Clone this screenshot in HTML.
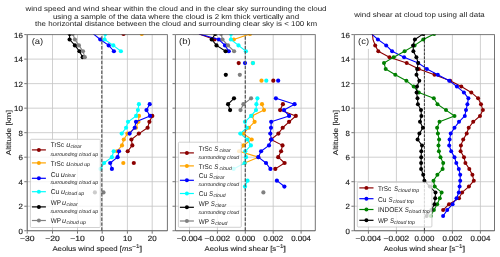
<!DOCTYPE html>
<html><head><meta charset="utf-8"><style>
html,body{margin:0;padding:0;background:#fff;overflow:hidden;}
svg{display:block;will-change:transform;}
text{font-family:"Liberation Sans",sans-serif;text-rendering:geometricPrecision;}
</style></head><body>
<svg width="500" height="257" viewBox="0 0 500 257">
<rect x="0" y="0" width="500" height="257" fill="#fff"/>
<defs>
<clipPath id="clipa"><rect x="27.2" y="34.6" width="140.20" height="196.15"/></clipPath>
<clipPath id="clipb"><rect x="175.4" y="34.6" width="139.90" height="196.15"/></clipPath>
<clipPath id="clipc"><rect x="354.3" y="34.6" width="140.20" height="196.15"/></clipPath>
</defs>
<path d="M27.20 230.75H167.40 M27.20 206.23H167.40 M27.20 181.71H167.40 M27.20 157.19H167.40 M27.20 132.68H167.40 M27.20 108.16H167.40 M27.20 83.64H167.40 M27.20 59.12H167.40 M27.20 34.60H167.40 M27.20 34.60V230.75 M52.50 34.60V230.75 M77.50 34.60V230.75 M102.20 34.60V230.75 M127.40 34.60V230.75 M152.20 34.60V230.75" stroke="#c4c4c4" stroke-width="0.8" fill="none"/>
<path d="M175.40 230.75H315.30 M175.40 206.23H315.30 M175.40 181.71H315.30 M175.40 157.19H315.30 M175.40 132.68H315.30 M175.40 108.16H315.30 M175.40 83.64H315.30 M175.40 59.12H315.30 M175.40 34.60H315.30 M189.50 34.60V230.75 M217.40 34.60V230.75 M245.30 34.60V230.75 M273.20 34.60V230.75 M301.10 34.60V230.75" stroke="#c4c4c4" stroke-width="0.8" fill="none"/>
<path d="M354.30 230.75H494.50 M354.30 206.23H494.50 M354.30 181.71H494.50 M354.30 157.19H494.50 M354.30 132.68H494.50 M354.30 108.16H494.50 M354.30 83.64H494.50 M354.30 59.12H494.50 M354.30 34.60H494.50 M368.40 34.60V230.75 M396.40 34.60V230.75 M424.40 34.60V230.75 M452.40 34.60V230.75 M480.40 34.60V230.75" stroke="#c4c4c4" stroke-width="0.8" fill="none"/>
<g clip-path="url(#clipa)">
<polyline points="152.3,115.97 149.4,121.85 147.6,127.73 138.9,133.61 131.4,139.49 132.3,145.38 127.7,151.26" fill="none" stroke="#8b0000" stroke-width="1.1" stroke-linejoin="round"/>
<circle cx="123.5" cy="33.90" r="2.1" fill="#8b0000"/>
<circle cx="152.3" cy="115.97" r="2.1" fill="#8b0000"/>
<circle cx="149.4" cy="121.85" r="2.1" fill="#8b0000"/>
<circle cx="147.6" cy="127.73" r="2.1" fill="#8b0000"/>
<circle cx="138.9" cy="133.61" r="2.1" fill="#8b0000"/>
<circle cx="131.4" cy="139.49" r="2.1" fill="#8b0000"/>
<circle cx="132.3" cy="145.38" r="2.1" fill="#8b0000"/>
<circle cx="127.7" cy="151.26" r="2.1" fill="#8b0000"/>
<circle cx="133.8" cy="163.02" r="2.1" fill="#8b0000"/>
<polyline points="139.0,115.97 138.4,121.85 136.0,127.73 127.4,133.61 123.8,139.49 122.0,145.38 117.0,151.26" fill="none" stroke="#ffa500" stroke-width="1.1" stroke-linejoin="round"/>
<circle cx="141.8" cy="33.90" r="2.1" fill="#ffa500"/>
<circle cx="139.0" cy="115.97" r="2.1" fill="#ffa500"/>
<circle cx="138.4" cy="121.85" r="2.1" fill="#ffa500"/>
<circle cx="136.0" cy="127.73" r="2.1" fill="#ffa500"/>
<circle cx="127.4" cy="133.61" r="2.1" fill="#ffa500"/>
<circle cx="123.8" cy="139.49" r="2.1" fill="#ffa500"/>
<circle cx="122.0" cy="145.38" r="2.1" fill="#ffa500"/>
<circle cx="117.0" cy="151.26" r="2.1" fill="#ffa500"/>
<circle cx="123.3" cy="163.02" r="2.1" fill="#ffa500"/>
<polyline points="93.3,33.90 100.3,39.50 108.7,45.38 113.9,51.26" fill="none" stroke="#0000ff" stroke-width="1.1" stroke-linejoin="round"/>
<polyline points="149.7,104.20 146.5,110.08 150.0,115.97 136.0,121.85 134.7,127.73 129.6,133.61" fill="none" stroke="#0000ff" stroke-width="1.1" stroke-linejoin="round"/>
<polyline points="119.0,151.26 117.6,157.14 110.2,163.02 111.9,168.90" fill="none" stroke="#0000ff" stroke-width="1.1" stroke-linejoin="round"/>
<circle cx="100.3" cy="39.50" r="2.1" fill="#0000ff"/>
<circle cx="108.7" cy="45.38" r="2.1" fill="#0000ff"/>
<circle cx="113.9" cy="51.26" r="2.1" fill="#0000ff"/>
<circle cx="149.7" cy="104.20" r="2.1" fill="#0000ff"/>
<circle cx="146.5" cy="110.08" r="2.1" fill="#0000ff"/>
<circle cx="150.0" cy="115.97" r="2.1" fill="#0000ff"/>
<circle cx="136.0" cy="121.85" r="2.1" fill="#0000ff"/>
<circle cx="134.7" cy="127.73" r="2.1" fill="#0000ff"/>
<circle cx="129.6" cy="133.61" r="2.1" fill="#0000ff"/>
<circle cx="119.0" cy="151.26" r="2.1" fill="#0000ff"/>
<circle cx="117.6" cy="157.14" r="2.1" fill="#0000ff"/>
<circle cx="110.2" cy="163.02" r="2.1" fill="#0000ff"/>
<circle cx="111.9" cy="168.90" r="2.1" fill="#0000ff"/>
<polyline points="105.3,33.90 104.6,39.50 113.3,45.38 120.9,51.26" fill="none" stroke="#00ffff" stroke-width="1.1" stroke-linejoin="round"/>
<polyline points="138.9,104.20 137.9,110.08 136.1,115.97 128.0,121.85 126.1,127.73 121.7,133.61" fill="none" stroke="#00ffff" stroke-width="1.1" stroke-linejoin="round"/>
<polyline points="113.7,151.26 111.9,157.14 104.1,163.02 100.5,168.90" fill="none" stroke="#00ffff" stroke-width="1.1" stroke-linejoin="round"/>
<circle cx="105.3" cy="33.90" r="2.1" fill="#00ffff"/>
<circle cx="104.6" cy="39.50" r="2.1" fill="#00ffff"/>
<circle cx="113.3" cy="45.38" r="2.1" fill="#00ffff"/>
<circle cx="120.9" cy="51.26" r="2.1" fill="#00ffff"/>
<circle cx="138.9" cy="104.20" r="2.1" fill="#00ffff"/>
<circle cx="137.9" cy="110.08" r="2.1" fill="#00ffff"/>
<circle cx="136.1" cy="115.97" r="2.1" fill="#00ffff"/>
<circle cx="128.0" cy="121.85" r="2.1" fill="#00ffff"/>
<circle cx="126.1" cy="127.73" r="2.1" fill="#00ffff"/>
<circle cx="121.7" cy="133.61" r="2.1" fill="#00ffff"/>
<circle cx="113.7" cy="151.26" r="2.1" fill="#00ffff"/>
<circle cx="111.9" cy="157.14" r="2.1" fill="#00ffff"/>
<circle cx="104.1" cy="163.02" r="2.1" fill="#00ffff"/>
<circle cx="100.5" cy="168.90" r="2.1" fill="#00ffff"/>
<polyline points="69.6,33.90 69.6,39.50 74.9,45.38 79.4,51.26 82.7,57.15" fill="none" stroke="#000000" stroke-width="1.1" stroke-linejoin="round"/>
<circle cx="69.6" cy="33.90" r="2.1" fill="#000000"/>
<circle cx="69.6" cy="39.50" r="2.1" fill="#000000"/>
<circle cx="74.9" cy="45.38" r="2.1" fill="#000000"/>
<circle cx="79.4" cy="51.26" r="2.1" fill="#000000"/>
<circle cx="82.7" cy="57.15" r="2.1" fill="#000000"/>
<circle cx="94.9" cy="192.43" r="2.1" fill="#000000"/>
<polyline points="72.8,33.90 74.9,39.50 78.9,45.38 83.0,51.26 84.8,57.15" fill="none" stroke="#808080" stroke-width="1.1" stroke-linejoin="round"/>
<circle cx="72.8" cy="33.90" r="2.1" fill="#808080"/>
<circle cx="74.9" cy="39.50" r="2.1" fill="#808080"/>
<circle cx="78.9" cy="45.38" r="2.1" fill="#808080"/>
<circle cx="83.0" cy="51.26" r="2.1" fill="#808080"/>
<circle cx="84.8" cy="57.15" r="2.1" fill="#808080"/>
<circle cx="103.5" cy="192.43" r="2.1" fill="#808080"/>
<line x1="101.8" y1="230.75" x2="101.8" y2="34.6" stroke="#555" stroke-width="1.2" stroke-dasharray="3.4 1.5"/>
</g>
<g clip-path="url(#clipb)">
<polyline points="199.0,33.90 214.5,39.50" fill="none" stroke="#8b0000" stroke-width="1.1" stroke-linejoin="round"/>
<polyline points="282.9,104.20 280.1,110.08 295.8,115.97 289.1,121.85 282.7,127.73 278.4,133.61 271.0,139.49 282.5,145.38 281.1,151.26 278.2,157.14 284.6,163.02 275.3,168.90" fill="none" stroke="#8b0000" stroke-width="1.1" stroke-linejoin="round"/>
<circle cx="214.5" cy="39.50" r="2.1" fill="#8b0000"/>
<circle cx="238.7" cy="63.03" r="2.1" fill="#8b0000"/>
<circle cx="273.3" cy="80.67" r="2.1" fill="#8b0000"/>
<circle cx="282.9" cy="104.20" r="2.1" fill="#8b0000"/>
<circle cx="280.1" cy="110.08" r="2.1" fill="#8b0000"/>
<circle cx="295.8" cy="115.97" r="2.1" fill="#8b0000"/>
<circle cx="289.1" cy="121.85" r="2.1" fill="#8b0000"/>
<circle cx="282.7" cy="127.73" r="2.1" fill="#8b0000"/>
<circle cx="278.4" cy="133.61" r="2.1" fill="#8b0000"/>
<circle cx="271.0" cy="139.49" r="2.1" fill="#8b0000"/>
<circle cx="282.5" cy="145.38" r="2.1" fill="#8b0000"/>
<circle cx="281.1" cy="151.26" r="2.1" fill="#8b0000"/>
<circle cx="278.2" cy="157.14" r="2.1" fill="#8b0000"/>
<circle cx="284.6" cy="163.02" r="2.1" fill="#8b0000"/>
<circle cx="275.3" cy="168.90" r="2.1" fill="#8b0000"/>
<polyline points="250.0,33.90 233.8,39.50" fill="none" stroke="#ffa500" stroke-width="1.1" stroke-linejoin="round"/>
<polyline points="262.0,104.20 264.0,110.08 252.0,115.97 254.6,121.85 248.9,127.73 243.4,133.61 251.7,139.49 243.6,145.38 239.1,151.26 258.4,157.14 244.7,163.02" fill="none" stroke="#ffa500" stroke-width="1.1" stroke-linejoin="round"/>
<circle cx="250.0" cy="33.90" r="2.1" fill="#ffa500"/>
<circle cx="233.8" cy="39.50" r="2.1" fill="#ffa500"/>
<circle cx="252.8" cy="63.03" r="2.1" fill="#ffa500"/>
<circle cx="261.5" cy="80.67" r="2.1" fill="#ffa500"/>
<circle cx="262.0" cy="104.20" r="2.1" fill="#ffa500"/>
<circle cx="264.0" cy="110.08" r="2.1" fill="#ffa500"/>
<circle cx="252.0" cy="115.97" r="2.1" fill="#ffa500"/>
<circle cx="254.6" cy="121.85" r="2.1" fill="#ffa500"/>
<circle cx="248.9" cy="127.73" r="2.1" fill="#ffa500"/>
<circle cx="243.4" cy="133.61" r="2.1" fill="#ffa500"/>
<circle cx="251.7" cy="139.49" r="2.1" fill="#ffa500"/>
<circle cx="243.6" cy="145.38" r="2.1" fill="#ffa500"/>
<circle cx="239.1" cy="151.26" r="2.1" fill="#ffa500"/>
<circle cx="258.4" cy="157.14" r="2.1" fill="#ffa500"/>
<circle cx="244.7" cy="163.02" r="2.1" fill="#ffa500"/>
<polyline points="199.0,33.90 218.9,39.50 225.0,45.38 228.8,51.26" fill="none" stroke="#0000ff" stroke-width="1.1" stroke-linejoin="round"/>
<polyline points="275.9,98.32 294.6,104.20 284.0,110.08 289.1,115.97 271.2,121.85 271.0,127.73 270.3,133.61 271.5,139.49 269.0,145.38 261.1,151.26 258.3,157.14 266.0,163.02 270.4,168.90" fill="none" stroke="#0000ff" stroke-width="1.1" stroke-linejoin="round"/>
<polyline points="276.9,180.67 284.4,186.55" fill="none" stroke="#0000ff" stroke-width="1.1" stroke-linejoin="round"/>
<circle cx="218.9" cy="39.50" r="2.1" fill="#0000ff"/>
<circle cx="225.0" cy="45.38" r="2.1" fill="#0000ff"/>
<circle cx="228.8" cy="51.26" r="2.1" fill="#0000ff"/>
<circle cx="245.0" cy="63.03" r="2.1" fill="#0000ff"/>
<circle cx="278.2" cy="80.67" r="2.1" fill="#0000ff"/>
<circle cx="275.9" cy="98.32" r="2.1" fill="#0000ff"/>
<circle cx="294.6" cy="104.20" r="2.1" fill="#0000ff"/>
<circle cx="284.0" cy="110.08" r="2.1" fill="#0000ff"/>
<circle cx="289.1" cy="115.97" r="2.1" fill="#0000ff"/>
<circle cx="271.2" cy="121.85" r="2.1" fill="#0000ff"/>
<circle cx="271.0" cy="127.73" r="2.1" fill="#0000ff"/>
<circle cx="270.3" cy="133.61" r="2.1" fill="#0000ff"/>
<circle cx="271.5" cy="139.49" r="2.1" fill="#0000ff"/>
<circle cx="269.0" cy="145.38" r="2.1" fill="#0000ff"/>
<circle cx="261.1" cy="151.26" r="2.1" fill="#0000ff"/>
<circle cx="258.3" cy="157.14" r="2.1" fill="#0000ff"/>
<circle cx="266.0" cy="163.02" r="2.1" fill="#0000ff"/>
<circle cx="270.4" cy="168.90" r="2.1" fill="#0000ff"/>
<circle cx="276.9" cy="180.67" r="2.1" fill="#0000ff"/>
<circle cx="284.4" cy="186.55" r="2.1" fill="#0000ff"/>
<polyline points="231.0,33.90 230.9,39.50 238.5,45.38 245.9,51.26" fill="none" stroke="#00ffff" stroke-width="1.1" stroke-linejoin="round"/>
<polyline points="257.4,98.32 256.4,104.20 256.0,110.08 251.1,115.97 245.0,121.85 246.8,127.73 240.3,133.61 247.3,139.49 250.9,145.38 245.3,151.26 246.0,157.14 244.7,163.02 233.6,168.90" fill="none" stroke="#00ffff" stroke-width="1.1" stroke-linejoin="round"/>
<polyline points="247.5,180.67 245.0,186.55" fill="none" stroke="#00ffff" stroke-width="1.1" stroke-linejoin="round"/>
<circle cx="231.0" cy="33.90" r="2.1" fill="#00ffff"/>
<circle cx="230.9" cy="39.50" r="2.1" fill="#00ffff"/>
<circle cx="238.5" cy="45.38" r="2.1" fill="#00ffff"/>
<circle cx="245.9" cy="51.26" r="2.1" fill="#00ffff"/>
<circle cx="253.0" cy="63.03" r="2.1" fill="#00ffff"/>
<circle cx="266.3" cy="80.67" r="2.1" fill="#00ffff"/>
<circle cx="257.4" cy="98.32" r="2.1" fill="#00ffff"/>
<circle cx="256.4" cy="104.20" r="2.1" fill="#00ffff"/>
<circle cx="256.0" cy="110.08" r="2.1" fill="#00ffff"/>
<circle cx="251.1" cy="115.97" r="2.1" fill="#00ffff"/>
<circle cx="245.0" cy="121.85" r="2.1" fill="#00ffff"/>
<circle cx="246.8" cy="127.73" r="2.1" fill="#00ffff"/>
<circle cx="240.3" cy="133.61" r="2.1" fill="#00ffff"/>
<circle cx="247.3" cy="139.49" r="2.1" fill="#00ffff"/>
<circle cx="250.9" cy="145.38" r="2.1" fill="#00ffff"/>
<circle cx="245.3" cy="151.26" r="2.1" fill="#00ffff"/>
<circle cx="246.0" cy="157.14" r="2.1" fill="#00ffff"/>
<circle cx="244.7" cy="163.02" r="2.1" fill="#00ffff"/>
<circle cx="233.6" cy="168.90" r="2.1" fill="#00ffff"/>
<circle cx="247.5" cy="180.67" r="2.1" fill="#00ffff"/>
<circle cx="245.0" cy="186.55" r="2.1" fill="#00ffff"/>
<polyline points="215.3,33.90 211.7,39.50 216.5,45.38 225.6,51.26" fill="none" stroke="#000000" stroke-width="1.1" stroke-linejoin="round"/>
<polyline points="234.0,98.32 228.1,104.20 230.1,110.08" fill="none" stroke="#000000" stroke-width="1.1" stroke-linejoin="round"/>
<circle cx="215.3" cy="33.90" r="2.1" fill="#000000"/>
<circle cx="211.7" cy="39.50" r="2.1" fill="#000000"/>
<circle cx="216.5" cy="45.38" r="2.1" fill="#000000"/>
<circle cx="225.6" cy="51.26" r="2.1" fill="#000000"/>
<circle cx="225.8" cy="74.79" r="2.1" fill="#000000"/>
<circle cx="234.0" cy="98.32" r="2.1" fill="#000000"/>
<circle cx="228.1" cy="104.20" r="2.1" fill="#000000"/>
<circle cx="230.1" cy="110.08" r="2.1" fill="#000000"/>
<polyline points="221.1,33.90 222.5,39.50 228.0,45.38 234.1,51.26" fill="none" stroke="#808080" stroke-width="1.1" stroke-linejoin="round"/>
<polyline points="251.1,98.32 243.4,104.20 240.5,110.08" fill="none" stroke="#808080" stroke-width="1.1" stroke-linejoin="round"/>
<circle cx="221.1" cy="33.90" r="2.1" fill="#808080"/>
<circle cx="222.5" cy="39.50" r="2.1" fill="#808080"/>
<circle cx="228.0" cy="45.38" r="2.1" fill="#808080"/>
<circle cx="234.1" cy="51.26" r="2.1" fill="#808080"/>
<circle cx="239.8" cy="74.79" r="2.1" fill="#808080"/>
<circle cx="251.1" cy="98.32" r="2.1" fill="#808080"/>
<circle cx="243.4" cy="104.20" r="2.1" fill="#808080"/>
<circle cx="240.5" cy="110.08" r="2.1" fill="#808080"/>
<circle cx="263.4" cy="192.43" r="2.1" fill="#808080"/>
<line x1="245.3" y1="230.75" x2="245.3" y2="34.6" stroke="#555" stroke-width="1.2" stroke-dasharray="3.4 1.5"/>
</g>
<g clip-path="url(#clipc)">
<polyline points="372.5,33.90 373.0,39.50 375.2,45.38 378.3,51.26 389.5,57.15 406.7,63.03 418.8,68.91 434.5,74.79 450.2,80.67 461.3,86.56 471.3,92.44 478.1,98.32 481.0,104.20 482.9,110.08 480.0,115.97 473.2,121.85 468.7,127.73 466.7,133.61 463.2,139.49 460.9,145.38 460.6,151.26 464.0,157.14 465.4,163.02 469.3,168.90 472.4,174.79 473.8,180.67 468.9,186.55 462.1,192.43 459.0,198.31 449.0,204.20 443.1,210.08" fill="none" stroke="#8b0000" stroke-width="1.1" stroke-linejoin="round"/>
<circle cx="375.2" cy="45.38" r="2.0" fill="#8b0000"/>
<circle cx="378.3" cy="51.26" r="2.0" fill="#8b0000"/>
<circle cx="389.5" cy="57.15" r="2.0" fill="#8b0000"/>
<circle cx="406.7" cy="63.03" r="2.0" fill="#8b0000"/>
<circle cx="418.8" cy="68.91" r="2.0" fill="#8b0000"/>
<circle cx="434.5" cy="74.79" r="2.0" fill="#8b0000"/>
<circle cx="450.2" cy="80.67" r="2.0" fill="#8b0000"/>
<circle cx="461.3" cy="86.56" r="2.0" fill="#8b0000"/>
<circle cx="471.3" cy="92.44" r="2.0" fill="#8b0000"/>
<circle cx="478.1" cy="98.32" r="2.0" fill="#8b0000"/>
<circle cx="481.0" cy="104.20" r="2.0" fill="#8b0000"/>
<circle cx="482.9" cy="110.08" r="2.0" fill="#8b0000"/>
<circle cx="480.0" cy="115.97" r="2.0" fill="#8b0000"/>
<circle cx="473.2" cy="121.85" r="2.0" fill="#8b0000"/>
<circle cx="468.7" cy="127.73" r="2.0" fill="#8b0000"/>
<circle cx="466.7" cy="133.61" r="2.0" fill="#8b0000"/>
<circle cx="463.2" cy="139.49" r="2.0" fill="#8b0000"/>
<circle cx="460.9" cy="145.38" r="2.0" fill="#8b0000"/>
<circle cx="460.6" cy="151.26" r="2.0" fill="#8b0000"/>
<circle cx="464.0" cy="157.14" r="2.0" fill="#8b0000"/>
<circle cx="465.4" cy="163.02" r="2.0" fill="#8b0000"/>
<circle cx="469.3" cy="168.90" r="2.0" fill="#8b0000"/>
<circle cx="472.4" cy="174.79" r="2.0" fill="#8b0000"/>
<circle cx="473.8" cy="180.67" r="2.0" fill="#8b0000"/>
<circle cx="468.9" cy="186.55" r="2.0" fill="#8b0000"/>
<circle cx="462.1" cy="192.43" r="2.0" fill="#8b0000"/>
<circle cx="459.0" cy="198.31" r="2.0" fill="#8b0000"/>
<circle cx="449.0" cy="204.20" r="2.0" fill="#8b0000"/>
<circle cx="443.1" cy="210.08" r="2.0" fill="#8b0000"/>
<polyline points="371.5,33.90 377.9,39.50 386.2,45.38 392.1,51.26 404.1,57.15 418.2,63.03 426.9,68.91 437.8,74.79 449.2,80.67 456.9,86.56 463.9,92.44 468.4,98.32 467.4,104.20 466.0,110.08 464.8,115.97 459.0,121.85 454.5,127.73 450.7,133.61 449.6,139.49 449.2,145.38 451.2,151.26 454.5,157.14 456.3,163.02 458.8,168.90 460.2,174.79 460.2,180.67 459.6,186.55 458.8,192.43 456.5,198.31 452.6,204.20 447.2,210.08 443.1,215.96" fill="none" stroke="#0000ff" stroke-width="1.1" stroke-linejoin="round"/>
<circle cx="377.9" cy="39.50" r="2.0" fill="#0000ff"/>
<circle cx="386.2" cy="45.38" r="2.0" fill="#0000ff"/>
<circle cx="392.1" cy="51.26" r="2.0" fill="#0000ff"/>
<circle cx="404.1" cy="57.15" r="2.0" fill="#0000ff"/>
<circle cx="418.2" cy="63.03" r="2.0" fill="#0000ff"/>
<circle cx="426.9" cy="68.91" r="2.0" fill="#0000ff"/>
<circle cx="437.8" cy="74.79" r="2.0" fill="#0000ff"/>
<circle cx="449.2" cy="80.67" r="2.0" fill="#0000ff"/>
<circle cx="456.9" cy="86.56" r="2.0" fill="#0000ff"/>
<circle cx="463.9" cy="92.44" r="2.0" fill="#0000ff"/>
<circle cx="468.4" cy="98.32" r="2.0" fill="#0000ff"/>
<circle cx="467.4" cy="104.20" r="2.0" fill="#0000ff"/>
<circle cx="466.0" cy="110.08" r="2.0" fill="#0000ff"/>
<circle cx="464.8" cy="115.97" r="2.0" fill="#0000ff"/>
<circle cx="459.0" cy="121.85" r="2.0" fill="#0000ff"/>
<circle cx="454.5" cy="127.73" r="2.0" fill="#0000ff"/>
<circle cx="450.7" cy="133.61" r="2.0" fill="#0000ff"/>
<circle cx="449.6" cy="139.49" r="2.0" fill="#0000ff"/>
<circle cx="449.2" cy="145.38" r="2.0" fill="#0000ff"/>
<circle cx="451.2" cy="151.26" r="2.0" fill="#0000ff"/>
<circle cx="454.5" cy="157.14" r="2.0" fill="#0000ff"/>
<circle cx="456.3" cy="163.02" r="2.0" fill="#0000ff"/>
<circle cx="458.8" cy="168.90" r="2.0" fill="#0000ff"/>
<circle cx="460.2" cy="174.79" r="2.0" fill="#0000ff"/>
<circle cx="460.2" cy="180.67" r="2.0" fill="#0000ff"/>
<circle cx="459.6" cy="186.55" r="2.0" fill="#0000ff"/>
<circle cx="458.8" cy="192.43" r="2.0" fill="#0000ff"/>
<circle cx="456.5" cy="198.31" r="2.0" fill="#0000ff"/>
<circle cx="452.6" cy="204.20" r="2.0" fill="#0000ff"/>
<circle cx="447.2" cy="210.08" r="2.0" fill="#0000ff"/>
<circle cx="443.1" cy="215.96" r="2.0" fill="#0000ff"/>
<polyline points="434.2,33.90 423.3,39.50 414.6,45.38 404.6,51.26 393.7,57.15 384.0,63.03 385.7,68.91 395.3,74.79 406.4,80.67 413.7,86.56 418.8,92.44 433.8,98.32 437.5,104.20 446.0,110.08 454.5,115.97 439.5,121.85 437.1,127.73 437.9,133.61 439.1,139.49 438.5,145.38 438.9,151.26 440.5,157.14 443.2,163.02 442.6,168.90 437.4,174.79 433.5,180.67 434.7,186.55 441.6,192.43 439.8,198.31 437.2,204.20 433.9,210.08 430.8,215.96" fill="none" stroke="#008000" stroke-width="1.1" stroke-linejoin="round"/>
<circle cx="434.2" cy="33.90" r="2.0" fill="#008000"/>
<circle cx="423.3" cy="39.50" r="2.0" fill="#008000"/>
<circle cx="414.6" cy="45.38" r="2.0" fill="#008000"/>
<circle cx="404.6" cy="51.26" r="2.0" fill="#008000"/>
<circle cx="393.7" cy="57.15" r="2.0" fill="#008000"/>
<circle cx="384.0" cy="63.03" r="2.0" fill="#008000"/>
<circle cx="385.7" cy="68.91" r="2.0" fill="#008000"/>
<circle cx="395.3" cy="74.79" r="2.0" fill="#008000"/>
<circle cx="406.4" cy="80.67" r="2.0" fill="#008000"/>
<circle cx="413.7" cy="86.56" r="2.0" fill="#008000"/>
<circle cx="418.8" cy="92.44" r="2.0" fill="#008000"/>
<circle cx="433.8" cy="98.32" r="2.0" fill="#008000"/>
<circle cx="437.5" cy="104.20" r="2.0" fill="#008000"/>
<circle cx="446.0" cy="110.08" r="2.0" fill="#008000"/>
<circle cx="454.5" cy="115.97" r="2.0" fill="#008000"/>
<circle cx="439.5" cy="121.85" r="2.0" fill="#008000"/>
<circle cx="437.1" cy="127.73" r="2.0" fill="#008000"/>
<circle cx="437.9" cy="133.61" r="2.0" fill="#008000"/>
<circle cx="439.1" cy="139.49" r="2.0" fill="#008000"/>
<circle cx="438.5" cy="145.38" r="2.0" fill="#008000"/>
<circle cx="438.9" cy="151.26" r="2.0" fill="#008000"/>
<circle cx="440.5" cy="157.14" r="2.0" fill="#008000"/>
<circle cx="443.2" cy="163.02" r="2.0" fill="#008000"/>
<circle cx="442.6" cy="168.90" r="2.0" fill="#008000"/>
<circle cx="437.4" cy="174.79" r="2.0" fill="#008000"/>
<circle cx="433.5" cy="180.67" r="2.0" fill="#008000"/>
<circle cx="434.7" cy="186.55" r="2.0" fill="#008000"/>
<circle cx="441.6" cy="192.43" r="2.0" fill="#008000"/>
<circle cx="439.8" cy="198.31" r="2.0" fill="#008000"/>
<circle cx="437.2" cy="204.20" r="2.0" fill="#008000"/>
<circle cx="433.9" cy="210.08" r="2.0" fill="#008000"/>
<circle cx="430.8" cy="215.96" r="2.0" fill="#008000"/>
<polyline points="423.3,33.90 414.9,39.50 413.1,45.38 413.4,51.26 416.4,57.15 418.2,63.03 417.1,68.91 416.5,74.79 419.3,80.67 417.0,86.56 416.6,92.44 417.5,98.32 417.9,104.20 421.0,110.08 421.4,115.97 420.0,121.85 422.9,127.73 419.4,133.61 417.6,139.49 422.0,145.38 421.3,151.26 421.2,157.14 421.1,163.02 421.1,168.90 423.2,174.79 424.4,180.67 429.8,186.55 435.5,192.43 435.2,198.31 434.4,204.20 431.4,210.08 426.6,215.96" fill="none" stroke="#000000" stroke-width="1.1" stroke-linejoin="round"/>
<circle cx="423.3" cy="33.90" r="2.0" fill="#000000"/>
<circle cx="414.9" cy="39.50" r="2.0" fill="#000000"/>
<circle cx="413.1" cy="45.38" r="2.0" fill="#000000"/>
<circle cx="413.4" cy="51.26" r="2.0" fill="#000000"/>
<circle cx="416.4" cy="57.15" r="2.0" fill="#000000"/>
<circle cx="418.2" cy="63.03" r="2.0" fill="#000000"/>
<circle cx="417.1" cy="68.91" r="2.0" fill="#000000"/>
<circle cx="416.5" cy="74.79" r="2.0" fill="#000000"/>
<circle cx="419.3" cy="80.67" r="2.0" fill="#000000"/>
<circle cx="417.0" cy="86.56" r="2.0" fill="#000000"/>
<circle cx="416.6" cy="92.44" r="2.0" fill="#000000"/>
<circle cx="417.5" cy="98.32" r="2.0" fill="#000000"/>
<circle cx="417.9" cy="104.20" r="2.0" fill="#000000"/>
<circle cx="421.0" cy="110.08" r="2.0" fill="#000000"/>
<circle cx="421.4" cy="115.97" r="2.0" fill="#000000"/>
<circle cx="420.0" cy="121.85" r="2.0" fill="#000000"/>
<circle cx="422.9" cy="127.73" r="2.0" fill="#000000"/>
<circle cx="419.4" cy="133.61" r="2.0" fill="#000000"/>
<circle cx="417.6" cy="139.49" r="2.0" fill="#000000"/>
<circle cx="422.0" cy="145.38" r="2.0" fill="#000000"/>
<circle cx="421.3" cy="151.26" r="2.0" fill="#000000"/>
<circle cx="421.2" cy="157.14" r="2.0" fill="#000000"/>
<circle cx="421.1" cy="163.02" r="2.0" fill="#000000"/>
<circle cx="421.1" cy="168.90" r="2.0" fill="#000000"/>
<circle cx="423.2" cy="174.79" r="2.0" fill="#000000"/>
<circle cx="424.4" cy="180.67" r="2.0" fill="#000000"/>
<circle cx="429.8" cy="186.55" r="2.0" fill="#000000"/>
<circle cx="435.5" cy="192.43" r="2.0" fill="#000000"/>
<circle cx="435.2" cy="198.31" r="2.0" fill="#000000"/>
<circle cx="434.4" cy="204.20" r="2.0" fill="#000000"/>
<circle cx="431.4" cy="210.08" r="2.0" fill="#000000"/>
<circle cx="426.6" cy="215.96" r="2.0" fill="#000000"/>
<line x1="424.4" y1="230.75" x2="424.4" y2="34.6" stroke="#000" stroke-width="0.75" stroke-dasharray="2.8 1.1"/>
</g>
<rect x="177.5" y="35.1" width="15.2" height="13.8" fill="#fff"/>
<rect x="356.4" y="35.1" width="15.0" height="13.8" fill="#fff"/>
<rect x="30.4" y="139.3" width="69.90" height="88.20" rx="1.0" fill="#fff" fill-opacity="0.8" stroke="#bdbdbd" stroke-width="0.7"/>
<line x1="31.9" y1="149.9" x2="45.9" y2="149.9" stroke="#8b0000" stroke-width="1.2"/>
<circle cx="38.90" cy="149.9" r="2.0" fill="#8b0000"/>
<line x1="31.9" y1="162.9" x2="45.9" y2="162.9" stroke="#ffa500" stroke-width="1.2"/>
<circle cx="38.90" cy="162.9" r="2.0" fill="#ffa500"/>
<line x1="31.9" y1="178.3" x2="45.9" y2="178.3" stroke="#0000ff" stroke-width="1.2"/>
<circle cx="38.90" cy="178.3" r="2.0" fill="#0000ff"/>
<line x1="31.9" y1="191.7" x2="45.9" y2="191.7" stroke="#00ffff" stroke-width="1.2"/>
<circle cx="38.90" cy="191.7" r="2.0" fill="#00ffff"/>
<line x1="31.9" y1="206.9" x2="45.9" y2="206.9" stroke="#000000" stroke-width="1.2"/>
<circle cx="38.90" cy="206.9" r="2.0" fill="#000000"/>
<line x1="31.9" y1="220.5" x2="45.9" y2="220.5" stroke="#808080" stroke-width="1.2"/>
<circle cx="38.90" cy="220.5" r="2.0" fill="#808080"/>
<rect x="178.4" y="142.2" width="62.90" height="85.10" rx="1.0" fill="#fff" fill-opacity="0.8" stroke="#bdbdbd" stroke-width="0.7"/>
<line x1="179.9" y1="152.9" x2="193.9" y2="152.9" stroke="#8b0000" stroke-width="1.2"/>
<circle cx="186.90" cy="152.9" r="2.0" fill="#8b0000"/>
<line x1="179.9" y1="165.9" x2="193.9" y2="165.9" stroke="#ffa500" stroke-width="1.2"/>
<circle cx="186.90" cy="165.9" r="2.0" fill="#ffa500"/>
<line x1="179.9" y1="180.3" x2="193.9" y2="180.3" stroke="#0000ff" stroke-width="1.2"/>
<circle cx="186.90" cy="180.3" r="2.0" fill="#0000ff"/>
<line x1="179.9" y1="193.5" x2="193.9" y2="193.5" stroke="#00ffff" stroke-width="1.2"/>
<circle cx="186.90" cy="193.5" r="2.0" fill="#00ffff"/>
<line x1="179.9" y1="207.3" x2="193.9" y2="207.3" stroke="#000000" stroke-width="1.2"/>
<circle cx="186.90" cy="207.3" r="2.0" fill="#000000"/>
<line x1="179.9" y1="221.0" x2="193.9" y2="221.0" stroke="#808080" stroke-width="1.2"/>
<circle cx="186.90" cy="221.0" r="2.0" fill="#808080"/>
<rect x="357.3" y="182.3" width="74.60" height="44.70" rx="1.0" fill="#fff" fill-opacity="0.8" stroke="#bdbdbd" stroke-width="0.7"/>
<line x1="359.3" y1="187.9" x2="373.5" y2="187.9" stroke="#8b0000" stroke-width="1.2"/>
<circle cx="366.40" cy="187.9" r="1.95" fill="#8b0000"/>
<line x1="359.3" y1="198.7" x2="373.5" y2="198.7" stroke="#0000ff" stroke-width="1.2"/>
<circle cx="366.40" cy="198.7" r="1.95" fill="#0000ff"/>
<line x1="359.3" y1="209.5" x2="373.5" y2="209.5" stroke="#008000" stroke-width="1.2"/>
<circle cx="366.40" cy="209.5" r="1.95" fill="#008000"/>
<line x1="359.3" y1="220.3" x2="373.5" y2="220.3" stroke="#000000" stroke-width="1.2"/>
<circle cx="366.40" cy="220.3" r="1.95" fill="#000000"/>
<path d="M27.2 35.10V230.75H167.4V35.10" fill="none" stroke="#000" stroke-opacity="0.55" stroke-width="1.0" stroke-linejoin="miter"/>
<path d="M26.70 34.60H167.90" fill="none" stroke="#000" stroke-opacity="0.42" stroke-width="1.0"/>
<path d="M24.30 230.75H26.70 M24.30 206.23H26.70 M24.30 181.71H26.70 M24.30 157.19H26.70 M24.30 132.68H26.70 M24.30 108.16H26.70 M24.30 83.64H26.70 M24.30 59.12H26.70 M24.30 34.60H26.70 M27.20 231.25V233.65 M52.50 231.25V233.65 M77.50 231.25V233.65 M102.20 231.25V233.65 M127.40 231.25V233.65 M152.20 231.25V233.65" stroke="#000" stroke-opacity="0.55" stroke-width="1.0" fill="none"/>
<path d="M175.4 35.10V230.75H315.3V35.10" fill="none" stroke="#000" stroke-opacity="0.55" stroke-width="1.0" stroke-linejoin="miter"/>
<path d="M174.90 34.60H315.80" fill="none" stroke="#000" stroke-opacity="0.42" stroke-width="1.0"/>
<path d="M172.50 230.75H174.90 M172.50 206.23H174.90 M172.50 181.71H174.90 M172.50 157.19H174.90 M172.50 132.68H174.90 M172.50 108.16H174.90 M172.50 83.64H174.90 M172.50 59.12H174.90 M172.50 34.60H174.90 M189.50 231.25V233.65 M217.40 231.25V233.65 M245.30 231.25V233.65 M273.20 231.25V233.65 M301.10 231.25V233.65" stroke="#000" stroke-opacity="0.55" stroke-width="1.0" fill="none"/>
<path d="M354.3 35.10V230.75H494.5V35.10" fill="none" stroke="#000" stroke-opacity="0.55" stroke-width="1.0" stroke-linejoin="miter"/>
<path d="M353.80 34.60H495.00" fill="none" stroke="#000" stroke-opacity="0.42" stroke-width="1.0"/>
<path d="M351.40 230.75H353.80 M351.40 206.23H353.80 M351.40 181.71H353.80 M351.40 157.19H353.80 M351.40 132.68H353.80 M351.40 108.16H353.80 M351.40 83.64H353.80 M351.40 59.12H353.80 M351.40 34.60H353.80 M368.40 231.25V233.65 M396.40 231.25V233.65 M424.40 231.25V233.65 M452.40 231.25V233.65 M480.40 231.25V233.65" stroke="#000" stroke-opacity="0.55" stroke-width="1.0" fill="none"/>
<defs><filter id="soft" filterUnits="userSpaceOnUse" x="0" y="0" width="500" height="257"><feConvolveMatrix order="3" kernelMatrix="0.01 0.05 0.01 0.05 0.76 0.05 0.01 0.05 0.01" preserveAlpha="false"/></filter></defs>
<g fill="#1c1c1c">
<text x="50.80" y="147.40" font-size="7.0" textLength="13.18" lengthAdjust="spacingAndGlyphs">TrSc</text>
<text x="66.30" y="147.40" font-size="7.0" font-style="italic" textLength="4.06" lengthAdjust="spacingAndGlyphs">u</text>
<text x="70.50" y="148.20" font-size="5.0" font-style="italic" textLength="11.05" lengthAdjust="spacingAndGlyphs">clear</text>
<text x="50.40" y="155.90" font-size="5.0" font-style="italic" textLength="47.71" lengthAdjust="spacingAndGlyphs">surrounding cloud up</text>
<text x="50.80" y="165.60" font-size="7.0" textLength="13.18" lengthAdjust="spacingAndGlyphs">TrSc</text>
<text x="66.30" y="165.60" font-size="7.0" font-style="italic" textLength="4.06" lengthAdjust="spacingAndGlyphs">u</text>
<text x="70.60" y="166.40" font-size="5.0" font-style="italic" textLength="19.24" lengthAdjust="spacingAndGlyphs">cloud up</text>
<text x="50.80" y="176.60" font-size="7.0" textLength="8.53" lengthAdjust="spacingAndGlyphs">Cu</text>
<text x="60.70" y="176.60" font-size="7.0" font-style="italic" textLength="4.06" lengthAdjust="spacingAndGlyphs">u</text>
<text x="64.70" y="177.40" font-size="5.0" font-style="italic" textLength="11.05" lengthAdjust="spacingAndGlyphs">clear</text>
<text x="50.40" y="184.40" font-size="5.0" font-style="italic" textLength="47.71" lengthAdjust="spacingAndGlyphs">surrounding cloud up</text>
<text x="50.80" y="194.40" font-size="7.0" textLength="8.53" lengthAdjust="spacingAndGlyphs">Cu</text>
<text x="60.90" y="194.40" font-size="7.0" font-style="italic" textLength="4.06" lengthAdjust="spacingAndGlyphs">u</text>
<text x="64.90" y="195.20" font-size="5.0" font-style="italic" textLength="19.24" lengthAdjust="spacingAndGlyphs">cloud up</text>
<text x="50.80" y="205.40" font-size="7.0" textLength="10.19" lengthAdjust="spacingAndGlyphs">WP</text>
<text x="62.10" y="205.40" font-size="7.0" font-style="italic" textLength="4.06" lengthAdjust="spacingAndGlyphs">u</text>
<text x="66.60" y="206.20" font-size="5.0" font-style="italic" textLength="11.05" lengthAdjust="spacingAndGlyphs">clear</text>
<text x="50.40" y="212.90" font-size="5.0" font-style="italic" textLength="47.71" lengthAdjust="spacingAndGlyphs">surrounding cloud up</text>
<text x="50.80" y="223.10" font-size="7.0" textLength="10.19" lengthAdjust="spacingAndGlyphs">WP</text>
<text x="62.10" y="223.10" font-size="7.0" font-style="italic" textLength="4.06" lengthAdjust="spacingAndGlyphs">u</text>
<text x="66.60" y="223.90" font-size="5.0" font-style="italic" textLength="19.24" lengthAdjust="spacingAndGlyphs">cloud up</text>
<text x="198.80" y="150.80" font-size="7.0" textLength="13.18" lengthAdjust="spacingAndGlyphs">TrSc</text>
<text x="214.30" y="150.80" font-size="7.0" font-style="italic" textLength="4.06" lengthAdjust="spacingAndGlyphs">S</text>
<text x="219.60" y="151.60" font-size="5.0" font-style="italic" textLength="11.05" lengthAdjust="spacingAndGlyphs">clear</text>
<text x="198.60" y="158.80" font-size="5.0" font-style="italic" textLength="40.60" lengthAdjust="spacingAndGlyphs">surrounding cloud</text>
<text x="198.80" y="168.70" font-size="7.0" textLength="13.18" lengthAdjust="spacingAndGlyphs">TrSc</text>
<text x="214.30" y="168.70" font-size="7.0" font-style="italic" textLength="4.06" lengthAdjust="spacingAndGlyphs">S</text>
<text x="219.60" y="169.50" font-size="5.0" font-style="italic" textLength="12.13" lengthAdjust="spacingAndGlyphs">cloud</text>
<text x="198.80" y="178.40" font-size="7.0" textLength="8.53" lengthAdjust="spacingAndGlyphs">Cu</text>
<text x="208.90" y="178.40" font-size="7.0" font-style="italic" textLength="4.06" lengthAdjust="spacingAndGlyphs">S</text>
<text x="213.40" y="179.20" font-size="5.0" font-style="italic" textLength="11.05" lengthAdjust="spacingAndGlyphs">clear</text>
<text x="198.60" y="186.40" font-size="5.0" font-style="italic" textLength="40.60" lengthAdjust="spacingAndGlyphs">surrounding cloud</text>
<text x="198.80" y="196.40" font-size="7.0" textLength="8.53" lengthAdjust="spacingAndGlyphs">Cu</text>
<text x="208.90" y="196.40" font-size="7.0" font-style="italic" textLength="4.06" lengthAdjust="spacingAndGlyphs">S</text>
<text x="213.40" y="197.20" font-size="5.0" font-style="italic" textLength="12.13" lengthAdjust="spacingAndGlyphs">cloud</text>
<text x="198.80" y="205.80" font-size="7.0" textLength="10.19" lengthAdjust="spacingAndGlyphs">WP</text>
<text x="210.70" y="205.80" font-size="7.0" font-style="italic" textLength="4.06" lengthAdjust="spacingAndGlyphs">S</text>
<text x="215.20" y="206.60" font-size="5.0" font-style="italic" textLength="11.05" lengthAdjust="spacingAndGlyphs">clear</text>
<text x="198.60" y="213.90" font-size="5.0" font-style="italic" textLength="40.60" lengthAdjust="spacingAndGlyphs">surrounding cloud</text>
<text x="198.80" y="223.90" font-size="7.0" textLength="10.19" lengthAdjust="spacingAndGlyphs">WP</text>
<text x="210.70" y="223.90" font-size="7.0" font-style="italic" textLength="4.06" lengthAdjust="spacingAndGlyphs">S</text>
<text x="215.20" y="224.70" font-size="5.0" font-style="italic" textLength="12.13" lengthAdjust="spacingAndGlyphs">cloud</text>
<text x="377.90" y="190.90" font-size="7.0" textLength="13.18" lengthAdjust="spacingAndGlyphs">TrSc</text>
<text x="393.90" y="190.90" font-size="7.0" font-style="italic" textLength="4.06" lengthAdjust="spacingAndGlyphs">S</text>
<text x="398.20" y="191.70" font-size="5.0" font-style="italic" textLength="20.90" lengthAdjust="spacingAndGlyphs">cloud top</text>
<text x="377.90" y="201.70" font-size="7.0" textLength="8.53" lengthAdjust="spacingAndGlyphs">Cu</text>
<text x="388.50" y="201.70" font-size="7.0" font-style="italic" textLength="4.06" lengthAdjust="spacingAndGlyphs">S</text>
<text x="393.00" y="202.50" font-size="5.0" font-style="italic" textLength="20.90" lengthAdjust="spacingAndGlyphs">cloud top</text>
<text x="377.90" y="212.30" font-size="7.0" textLength="25.07" lengthAdjust="spacingAndGlyphs">INDOEX</text>
<text x="404.70" y="212.30" font-size="7.0" font-style="italic" textLength="4.06" lengthAdjust="spacingAndGlyphs">S</text>
<text x="408.80" y="213.10" font-size="5.0" font-style="italic" textLength="20.90" lengthAdjust="spacingAndGlyphs">cloud top</text>
<text x="377.90" y="223.30" font-size="7.0" textLength="10.19" lengthAdjust="spacingAndGlyphs">WP</text>
<text x="390.00" y="223.30" font-size="7.0" font-style="italic" textLength="4.06" lengthAdjust="spacingAndGlyphs">S</text>
<text x="394.00" y="224.10" font-size="5.0" font-style="italic" textLength="20.90" lengthAdjust="spacingAndGlyphs">cloud top</text>
<text x="27.20" y="240.50" font-size="7.6" text-anchor="middle" textLength="14.60" lengthAdjust="spacingAndGlyphs" stroke="#1c1c1c" stroke-width="0.15">−30</text>
<text x="52.50" y="240.50" font-size="7.6" text-anchor="middle" textLength="14.60" lengthAdjust="spacingAndGlyphs" stroke="#1c1c1c" stroke-width="0.15">−20</text>
<text x="77.50" y="240.50" font-size="7.6" text-anchor="middle" textLength="14.60" lengthAdjust="spacingAndGlyphs" stroke="#1c1c1c" stroke-width="0.15">−10</text>
<text x="102.20" y="240.50" font-size="7.6" text-anchor="middle" textLength="4.40" lengthAdjust="spacingAndGlyphs" stroke="#1c1c1c" stroke-width="0.15">0</text>
<text x="127.40" y="240.50" font-size="7.6" text-anchor="middle" textLength="8.81" lengthAdjust="spacingAndGlyphs" stroke="#1c1c1c" stroke-width="0.15">10</text>
<text x="152.20" y="240.50" font-size="7.6" text-anchor="middle" textLength="8.81" lengthAdjust="spacingAndGlyphs" stroke="#1c1c1c" stroke-width="0.15">20</text>
<text x="22.80" y="233.85" font-size="7.6" text-anchor="end" textLength="4.40" lengthAdjust="spacingAndGlyphs" stroke="#1c1c1c" stroke-width="0.15">0</text>
<text x="22.80" y="209.33" font-size="7.6" text-anchor="end" textLength="4.40" lengthAdjust="spacingAndGlyphs" stroke="#1c1c1c" stroke-width="0.15">2</text>
<text x="22.80" y="184.81" font-size="7.6" text-anchor="end" textLength="4.40" lengthAdjust="spacingAndGlyphs" stroke="#1c1c1c" stroke-width="0.15">4</text>
<text x="22.80" y="160.29" font-size="7.6" text-anchor="end" textLength="4.40" lengthAdjust="spacingAndGlyphs" stroke="#1c1c1c" stroke-width="0.15">6</text>
<text x="22.80" y="135.78" font-size="7.6" text-anchor="end" textLength="4.40" lengthAdjust="spacingAndGlyphs" stroke="#1c1c1c" stroke-width="0.15">8</text>
<text x="22.80" y="111.26" font-size="7.6" text-anchor="end" textLength="8.81" lengthAdjust="spacingAndGlyphs" stroke="#1c1c1c" stroke-width="0.15">10</text>
<text x="22.80" y="86.74" font-size="7.6" text-anchor="end" textLength="8.81" lengthAdjust="spacingAndGlyphs" stroke="#1c1c1c" stroke-width="0.15">12</text>
<text x="22.80" y="62.22" font-size="7.6" text-anchor="end" textLength="8.81" lengthAdjust="spacingAndGlyphs" stroke="#1c1c1c" stroke-width="0.15">14</text>
<text x="22.80" y="37.70" font-size="7.6" text-anchor="end" textLength="8.81" lengthAdjust="spacingAndGlyphs" stroke="#1c1c1c" stroke-width="0.15">16</text>
<text x="189.50" y="240.50" font-size="7.6" text-anchor="middle" textLength="25.61" lengthAdjust="spacingAndGlyphs" stroke="#1c1c1c" stroke-width="0.15">−0.004</text>
<text x="217.40" y="240.50" font-size="7.6" text-anchor="middle" textLength="25.61" lengthAdjust="spacingAndGlyphs" stroke="#1c1c1c" stroke-width="0.15">−0.002</text>
<text x="245.30" y="240.50" font-size="7.6" text-anchor="middle" textLength="19.81" lengthAdjust="spacingAndGlyphs" stroke="#1c1c1c" stroke-width="0.15">0.000</text>
<text x="273.20" y="240.50" font-size="7.6" text-anchor="middle" textLength="19.81" lengthAdjust="spacingAndGlyphs" stroke="#1c1c1c" stroke-width="0.15">0.002</text>
<text x="301.10" y="240.50" font-size="7.6" text-anchor="middle" textLength="19.81" lengthAdjust="spacingAndGlyphs" stroke="#1c1c1c" stroke-width="0.15">0.004</text>
<text x="368.40" y="240.50" font-size="7.6" text-anchor="middle" textLength="25.61" lengthAdjust="spacingAndGlyphs" stroke="#1c1c1c" stroke-width="0.15">−0.004</text>
<text x="396.40" y="240.50" font-size="7.6" text-anchor="middle" textLength="25.61" lengthAdjust="spacingAndGlyphs" stroke="#1c1c1c" stroke-width="0.15">−0.002</text>
<text x="424.40" y="240.50" font-size="7.6" text-anchor="middle" textLength="19.81" lengthAdjust="spacingAndGlyphs" stroke="#1c1c1c" stroke-width="0.15">0.000</text>
<text x="452.40" y="240.50" font-size="7.6" text-anchor="middle" textLength="19.81" lengthAdjust="spacingAndGlyphs" stroke="#1c1c1c" stroke-width="0.15">0.002</text>
<text x="480.40" y="240.50" font-size="7.6" text-anchor="middle" textLength="19.81" lengthAdjust="spacingAndGlyphs" stroke="#1c1c1c" stroke-width="0.15">0.004</text>
<text x="349.90" y="233.85" font-size="7.6" text-anchor="end" textLength="4.40" lengthAdjust="spacingAndGlyphs" stroke="#1c1c1c" stroke-width="0.15">0</text>
<text x="349.90" y="209.33" font-size="7.6" text-anchor="end" textLength="4.40" lengthAdjust="spacingAndGlyphs" stroke="#1c1c1c" stroke-width="0.15">2</text>
<text x="349.90" y="184.81" font-size="7.6" text-anchor="end" textLength="4.40" lengthAdjust="spacingAndGlyphs" stroke="#1c1c1c" stroke-width="0.15">4</text>
<text x="349.90" y="160.29" font-size="7.6" text-anchor="end" textLength="4.40" lengthAdjust="spacingAndGlyphs" stroke="#1c1c1c" stroke-width="0.15">6</text>
<text x="349.90" y="135.78" font-size="7.6" text-anchor="end" textLength="4.40" lengthAdjust="spacingAndGlyphs" stroke="#1c1c1c" stroke-width="0.15">8</text>
<text x="349.90" y="111.26" font-size="7.6" text-anchor="end" textLength="8.81" lengthAdjust="spacingAndGlyphs" stroke="#1c1c1c" stroke-width="0.15">10</text>
<text x="349.90" y="86.74" font-size="7.6" text-anchor="end" textLength="8.81" lengthAdjust="spacingAndGlyphs" stroke="#1c1c1c" stroke-width="0.15">12</text>
<text x="349.90" y="62.22" font-size="7.6" text-anchor="end" textLength="8.81" lengthAdjust="spacingAndGlyphs" stroke="#1c1c1c" stroke-width="0.15">14</text>
<text x="349.90" y="37.70" font-size="7.6" text-anchor="end" textLength="8.81" lengthAdjust="spacingAndGlyphs" stroke="#1c1c1c" stroke-width="0.15">16</text>
<text x="31.70" y="44.00" font-size="8.4" textLength="11.56" lengthAdjust="spacingAndGlyphs">(a)</text>
<text x="179.10" y="44.00" font-size="8.4" textLength="11.74" lengthAdjust="spacingAndGlyphs">(b)</text>
<text x="358.10" y="44.00" font-size="8.4" textLength="11.04" lengthAdjust="spacingAndGlyphs">(c)</text>
<text x="52.42" y="250.70" font-size="7.0" textLength="69.58" lengthAdjust="spacingAndGlyphs" stroke="#1c1c1c" stroke-width="0.1">Aeolus wind speed [</text>
<text x="122.00" y="250.70" font-size="7.0" font-style="italic" textLength="10.35" lengthAdjust="spacingAndGlyphs" stroke="#1c1c1c" stroke-width="0.1">ms</text>
<text x="132.34" y="247.50" font-size="5.4" textLength="7.14" lengthAdjust="spacingAndGlyphs" stroke="#1c1c1c" stroke-width="0.1">−1</text>
<text x="139.48" y="250.70" font-size="7.0" textLength="2.70" lengthAdjust="spacingAndGlyphs" stroke="#1c1c1c" stroke-width="0.1">]</text>
<text x="204.62" y="250.70" font-size="7.0" textLength="71.62" lengthAdjust="spacingAndGlyphs" stroke="#1c1c1c" stroke-width="0.1">Aeolus wind shear [s</text>
<text x="276.24" y="247.50" font-size="5.4" textLength="7.14" lengthAdjust="spacingAndGlyphs" stroke="#1c1c1c" stroke-width="0.1">−1</text>
<text x="283.38" y="250.70" font-size="7.0" textLength="2.70" lengthAdjust="spacingAndGlyphs" stroke="#1c1c1c" stroke-width="0.1">]</text>
<text x="383.67" y="250.70" font-size="7.0" textLength="71.62" lengthAdjust="spacingAndGlyphs" stroke="#1c1c1c" stroke-width="0.1">Aeolus wind shear [s</text>
<text x="455.29" y="247.50" font-size="5.4" textLength="7.14" lengthAdjust="spacingAndGlyphs" stroke="#1c1c1c" stroke-width="0.1">−1</text>
<text x="462.43" y="250.70" font-size="7.0" textLength="2.70" lengthAdjust="spacingAndGlyphs" stroke="#1c1c1c" stroke-width="0.1">]</text>
<text transform="translate(10.9,132.68) rotate(-90)" x="0" y="0" font-size="7.0" text-anchor="middle" textLength="45.39" lengthAdjust="spacingAndGlyphs" stroke="#1c1c1c" stroke-width="0.1">Altitude [km]</text>
<text transform="translate(338.1,132.68) rotate(-90)" x="0" y="0" font-size="7.0" text-anchor="middle" textLength="45.39" lengthAdjust="spacingAndGlyphs" stroke="#1c1c1c" stroke-width="0.1">Altitude [km]</text>
<text x="176.00" y="10.80" font-size="7.0" text-anchor="middle" textLength="300.88" lengthAdjust="spacingAndGlyphs">wind speed and wind shear within the cloud and in the clear sky surrounding the cloud</text>
<text x="176.00" y="18.50" font-size="7.0" text-anchor="middle" textLength="246.20" lengthAdjust="spacingAndGlyphs">using a sample of the data where the cloud is 2 km thick vertically and</text>
<text x="176.00" y="26.20" font-size="7.0" text-anchor="middle" textLength="282.15" lengthAdjust="spacingAndGlyphs">the horizontal distance between the cloud and surrounding clear sky is &lt; 100 km</text>
<text x="354.30" y="16.50" font-size="7.0" textLength="130.49" lengthAdjust="spacingAndGlyphs">wind shear at cloud top using all data</text>
</g>
</svg>
</body></html>
